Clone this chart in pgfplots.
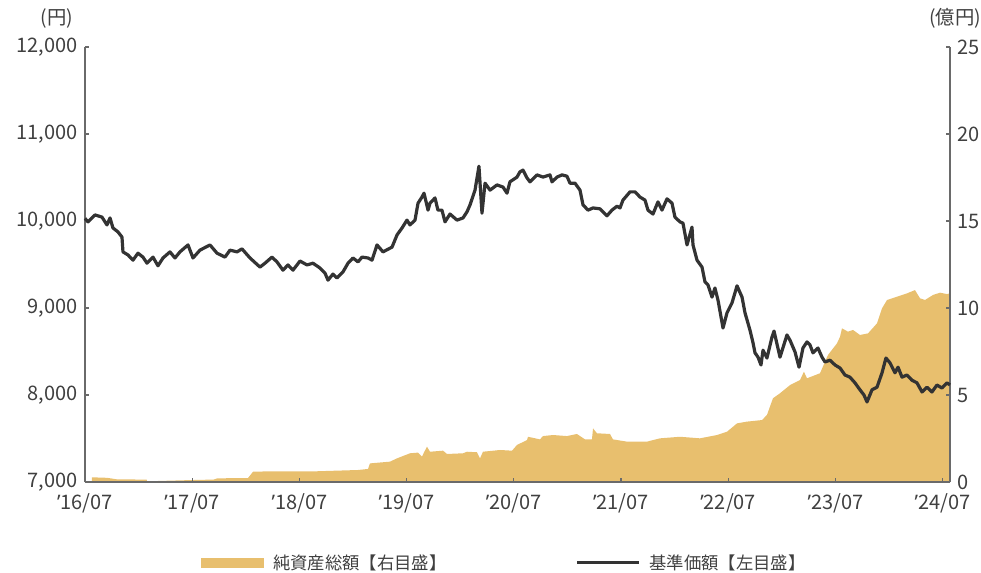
\documentclass[border=0pt]{standalone}
\usepackage{fontspec}
\setmainfont{Noto Sans CJK JP}
\newfontfamily\latinfont{Noto Sans}
\usepackage{pgfplots}
\pgfplotsset{compat=1.18}

\definecolor{areacol}{HTML}{E8BF6E}
\definecolor{navcol}{HTML}{333333}
\definecolor{axisgray}{HTML}{6A6A6A}
\definecolor{textgray}{HTML}{404040}

\newcommand{\yr}[1]{{\latinfont ’}#1/07}

\pgfplotsset{
  common/.style={
    scale only axis,
    width=648.75pt, height=326.25pt,
    at={(0,0)}, anchor=south west,
    xmin=0, xmax=96.83,
    tick align=inside,
    major tick length=3pt,
    axis line style={color=axisgray, line width=0.9pt},
    tick style={color=axisgray, line width=0.9pt},
    tick label style={font=\fontsize{15}{18}\selectfont, text=textgray},
    /pgf/number format/assume math mode=true,
    clip=false,
  }
}

\begin{document}
\begin{tikzpicture}
% 純資産総額（右目盛）
\begin{axis}[common,
    axis x line*=bottom, axis y line*=right,
    axis on top,
    ymin=0, ymax=25,
    ytick={0,5,...,25},
    xtick={0,12,...,96},
    xticklabels={\yr{16},\yr{17},\yr{18},\yr{19},\yr{20},\yr{21},\yr{22},\yr{23},\yr{24}},
    xticklabel style={yshift=-5pt},
    yticklabel style={xshift=2pt},
  ]
  \addplot[fill=areacol, draw=none] coordinates {
    (0.78,0) (0.78,0.27) (2.5,0.24) (3.6,0.15) (6.9,0.14) (6.95,0.04) (11.75,0.11)
    (14.4,0.14) (14.8,0.21) (18.25,0.23) (18.81,0.59) (20.37,0.61) (25.52,0.61)
    (30.56,0.69) (31.68,0.75) (31.9,1.07) (34.14,1.17) (34.93,1.36) (36.38,1.65)
    (37.28,1.69) (37.72,1.46) (38.0,1.75) (38.28,2.03) (38.62,1.74) (40.08,1.80)
    (40.52,1.61) (42.31,1.65) (42.76,1.74) (43.88,1.71) (44.22,1.36) (44.55,1.74)
    (46.46,1.84) (47.80,1.80) (48.36,2.13) (49.48,2.41) (49.59,2.60) (50.93,2.45)
    (51.27,2.64) (52.39,2.70) (53.95,2.64) (55.07,2.76) (55.97,2.45) (56.75,2.45)
    (56.87,3.08) (57.31,2.80) (58.77,2.76) (59.10,2.45) (60.67,2.32) (62.91,2.32)
    (64.37,2.51) (66.60,2.60) (68.84,2.51) (70.75,2.70) (71.87,2.89) (72.99,3.37)
    (74.10,3.47) (75.78,3.56) (76.34,3.85) (77.01,4.81) (77.80,5.10) (78.92,5.57)
    (80.04,5.86) (80.48,6.34) (80.82,5.96) (82.28,6.25) (83.17,7.30) (84.18,7.97)
    (84.52,8.35) (84.74,8.83) (85.41,8.64) (85.97,8.74) (86.75,8.45) (87.65,8.54)
    (88.66,9.12) (89.22,9.98) (89.78,10.46) (90.90,10.65) (92.01,10.84) (92.91,11.03)
    (93.47,10.56) (94.03,10.46) (94.93,10.75) (95.71,10.88) (96.49,10.80) (96.83,10.84)
    (96.83,0)
  } -- cycle;
  \node[font=\fontsize{14.5}{17}\selectfont, text=textgray] at (axis description cs:1.0058,1.0667) {(億円)};
\end{axis}

% 基準価額（左目盛）
\begin{axis}[common,
    axis x line=none, axis y line*=left,
    ymin=7000, ymax=12000,
    ytick={7000,8000,...,12000},
    scaled y ticks=false,
    /pgf/number format/fixed,
    /pgf/number format/precision=0,
    /pgf/number format/1000 sep={,},
    yticklabel style={xshift=-2pt},
    legend columns=2,
    legend style={at={(0.485,-0.186)}, anchor=center, draw=none, fill=none,
      font=\fontsize{13}{15}\selectfont, text=textgray,
      /tikz/every even column/.append style={column sep=95pt}},
  ]
  \addlegendimage{legend image code/.code={\fill[areacol] (0pt,-3.4pt) rectangle (46.5pt,3.4pt);
    \path[draw=none, fill=none] (0pt,0pt) -- (52pt,0pt);}}
  \addlegendentry{純資産総額【右目盛】}
  \addplot[navcol, line width=2.4pt, line join=round,
    legend image code/.code={\draw[navcol, line width=2.2pt] (0pt,0pt) -- (46.5pt,0pt);
      \path[draw=none, fill=none] (0pt,0pt) -- (52pt,0pt);}]
  coordinates {
    (0,10030)(0.34,9990)(1.12,10070)(1.90,10045)(2.46,9955)(2.80,10035)(3.13,9920)
    (3.69,9875)(4.14,9815)(4.25,9645)(4.81,9610)(5.37,9550)(5.93,9630)(6.49,9585)
    (6.94,9515)(7.61,9585)(8.17,9485)(8.73,9575)(9.51,9645)(10.07,9575)(10.63,9645)
    (11.53,9725)(12.09,9575)(12.87,9665)(13.99,9725)(14.78,9630)(15.67,9585)(16.23,9665)
    (17.02,9645)(17.57,9680)(18.47,9575)(19.59,9470)(20.15,9515)(20.93,9585)(21.49,9530)
    (22.16,9435)(22.72,9495)(23.28,9435)(24.07,9540)(24.85,9495)(25.52,9515)(26.30,9460)
    (26.87,9400)(27.20,9320)(27.76,9390)(28.21,9345)(28.88,9415)(29.44,9515)(30.00,9575)
    (30.56,9530)(31.01,9585)(31.68,9575)(32.13,9550)(32.69,9725)(33.36,9645)(34.37,9700)
    (34.93,9840)(35.49,9920)(36.04,10010)(36.38,9955)(36.94,10010)(37.28,10205)(37.72,10275)
    (37.95,10320)(38.40,10125)(38.62,10205)(39.18,10265)(39.51,10125)(39.96,10125)(40.30,9990)
    (40.86,10080)(41.64,10010)(42.31,10035)(42.76,10105)(43.10,10185)(43.66,10355)(44.10,10630)
    (44.44,10090)(44.78,10435)(45.34,10355)(46.12,10415)(46.79,10390)(47.24,10320)(47.57,10450)
    (48.36,10505)(48.69,10565)(49.03,10585)(49.48,10495)(49.81,10450)(50.60,10530)(51.27,10505)
    (52.05,10530)(52.28,10450)(52.84,10505)(53.40,10530)(53.95,10515)(54.29,10435)(54.85,10435)
    (55.41,10355)(55.75,10185)(56.31,10125)(56.87,10150)(57.65,10140)(58.43,10060)(58.99,10125)
    (59.55,10170)(59.89,10150)(60.22,10240)(61.01,10335)(61.57,10335)(62.13,10275)(62.69,10240)
    (63.02,10125)(63.58,10080)(64.14,10220)(64.59,10125)(65.15,10255)(65.71,10205)(66.04,10045)
    (66.60,9990)(66.94,9975)(67.39,9725)(67.95,9930)(68.06,9725)(68.51,9550)(69.07,9470)
    (69.40,9300)(69.74,9265)(70.19,9125)(70.52,9230)(70.86,9090)(71.42,8770)(71.87,8945)
    (72.43,9060)(72.99,9255)(73.55,9125)(73.88,8945)(74.44,8745)(74.78,8600)(75.00,8485)
    (75.34,8435)(75.67,8345)(75.90,8515)(76.34,8425)(76.90,8665)(77.13,8735)(77.80,8435)
    (78.58,8690)(78.92,8630)(79.48,8495)(79.93,8320)(80.37,8540)(80.82,8610)(81.16,8575)
    (81.49,8485)(82.05,8540)(82.50,8435)(82.84,8380)(83.40,8400)(83.96,8345)(84.52,8310)
    (85.07,8230)(85.63,8205)(86.19,8140)(86.75,8060)(87.20,8000)(87.54,7920)(88.10,8060)
    (88.66,8090)(89.22,8255)(89.66,8425)(90.11,8370)(90.67,8255)(91.01,8320)(91.46,8205)
    (92.01,8230)(92.57,8170)(93.13,8140)(93.70,8035)(94.25,8090)(94.81,8035)(95.37,8115)
    (95.93,8080)(96.49,8140)(96.83,8115)
  };
  \addlegendentry{基準価額【左目盛】}
  \node[font=\fontsize{14.5}{17}\selectfont, text=textgray] at (axis description cs:-0.0324,1.0667) {(円)};
\end{axis}
\pgfresetboundingbox
\path (-63.75pt,-67.5pt) rectangle (672pt,361.5pt);
\end{tikzpicture}
\end{document}
